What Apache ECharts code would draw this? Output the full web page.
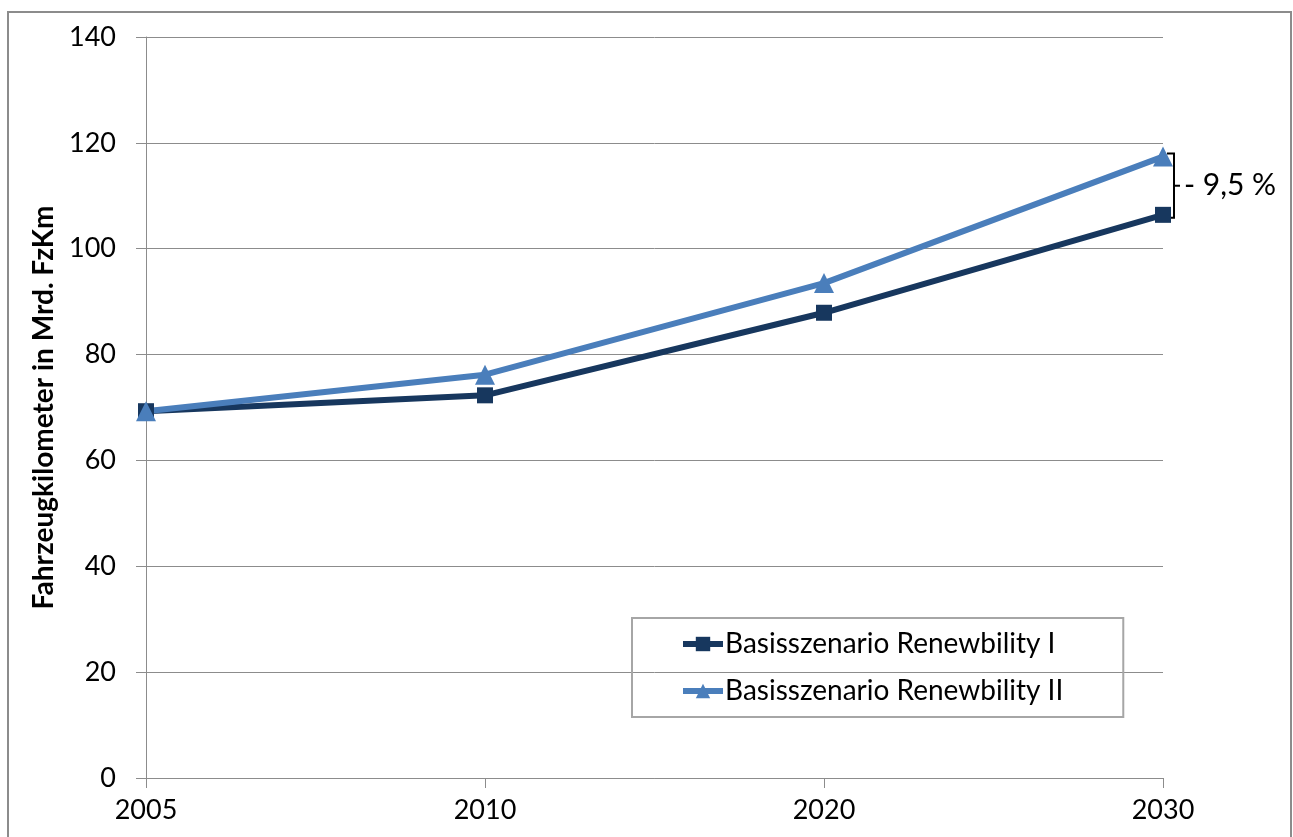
<!DOCTYPE html>
<html>
<head>
<meta charset="utf-8">
<script src="https://cdn.jsdelivr.net/npm/echarts@6/dist/echarts.min.js"></script>
<style>
  html, body { margin: 0; padding: 0; background: #fff; }
  #chart { width: 1293px; height: 837px; }
</style>
</head>
<body>
<div id="chart"></div>
<script>
// data
const years = ['2005', '2010', '2020', '2030'];
const renewbility1 = [69.3, 72.3, 87.9, 106.4];
const renewbility2 = [69.3, 76.2, 93.5, 117.4];
const seriesNames = ['Basisszenario Renewbility I', 'Basisszenario Renewbility II'];
const yTicks = { min: 0, max: 140, interval: 20 };
const yName = 'Fahrzeugkilometer in Mrd. FzKm';
const gapLabel = '- 9,5 %';

const FONT = 'Lato';
const dark = '#17375E';
const light = '#4A7EBB';
const gridGray = '#8C8C8C';

const chart = echarts.init(document.getElementById('chart'), null, { renderer: 'canvas' });

const option = {
  animation: false,
  backgroundColor: '#fff',
  textStyle: { fontFamily: FONT },
  grid: { left: 146, right: 130, top: 37, bottom: 59 },
  legend: {
    orient: 'vertical',
    left: 632,
    top: 618,
    padding: [11, 60, 11, 48],
    itemGap: 17,
    itemWidth: 40,
    itemHeight: 18,
    borderColor: '#A6A6A6',
    borderWidth: 2,
    backgroundColor: 'transparent',
    lineStyle: { width: 6 },
    textStyle: { fontFamily: FONT, fontSize: 28, color: '#000', lineHeight: 30, padding: [0, 0, 0, -3] },
    data: seriesNames
  },
  xAxis: {
    type: 'category',
    data: years,
    boundaryGap: false,
    axisLine: { show: true, lineStyle: { color: gridGray, width: 1 } },
    axisTick: { show: true, alignWithLabel: true, length: 10, inside: false, lineStyle: { color: gridGray } },
    axisLabel: { fontFamily: FONT, fontSize: 27, color: '#000', margin: 19 },
    splitLine: { show: false }
  },
  yAxis: {
    type: 'value',
    min: yTicks.min,
    max: yTicks.max,
    interval: yTicks.interval,
    name: yName,
    nameLocation: 'middle',
    nameRotate: 90,
    nameGap: 88,
    nameTextStyle: { fontFamily: FONT, fontSize: 28, fontWeight: 'bold', color: '#000' },
    axisLine: { show: true, lineStyle: { color: gridGray, width: 1 } },
    axisTick: { show: true, length: 10, inside: false, lineStyle: { color: gridGray } },
    axisLabel: { fontFamily: FONT, fontSize: 27, color: '#000', margin: 30 },
    splitLine: { show: true, lineStyle: { color: gridGray, width: 1 } }
  },
  series: [
    {
      name: seriesNames[0],
      type: 'line',
      data: renewbility1,
      symbol: 'rect',
      symbolSize: 16,
      itemStyle: { color: dark },
      lineStyle: { color: dark, width: 6 }
    },
    {
      name: seriesNames[1],
      type: 'line',
      data: renewbility2,
      symbol: 'triangle',
      symbolSize: 20,
      itemStyle: { color: light },
      lineStyle: { color: light, width: 6 }
    }
  ]
};
chart.setOption(option);

// bracket annotation at the last year, positioned from the data
const last = years.length - 1;
const pTop = chart.convertToPixel({ seriesIndex: 1 }, [last, renewbility2[last]]);
const pBot = chart.convertToPixel({ seriesIndex: 0 }, [last, renewbility1[last]]);
const bx = pTop[0] + 11;
const yT = pTop[1] - 3;
const yB = pBot[1] + 3;
const yM = (yT + yB) / 2;

chart.setOption({
  graphic: [
    {
      type: 'rect',
      shape: { x: 8, y: 12, width: 1283, height: 900 },
      style: { fill: 'none', stroke: '#8C8C8C', lineWidth: 2 },
      silent: true
    },
    {
      type: 'polyline',
      shape: { points: [[bx - 7, yT], [bx, yT], [bx, yB], [bx - 7, yB]] },
      style: { fill: 'none', stroke: '#000', lineWidth: 2 },
      silent: true
    },
    {
      type: 'line',
      shape: { x1: bx, y1: yM, x2: bx + 6, y2: yM },
      style: { stroke: '#000', lineWidth: 2 },
      silent: true
    },
    {
      type: 'text',
      x: bx + 10,
      y: yM,
      style: { text: gapLabel, fontFamily: FONT, fontSize: 30, fill: '#000', verticalAlign: 'middle', align: 'left' },
      silent: true
    }
  ]
});
</script>
</body>
</html>
